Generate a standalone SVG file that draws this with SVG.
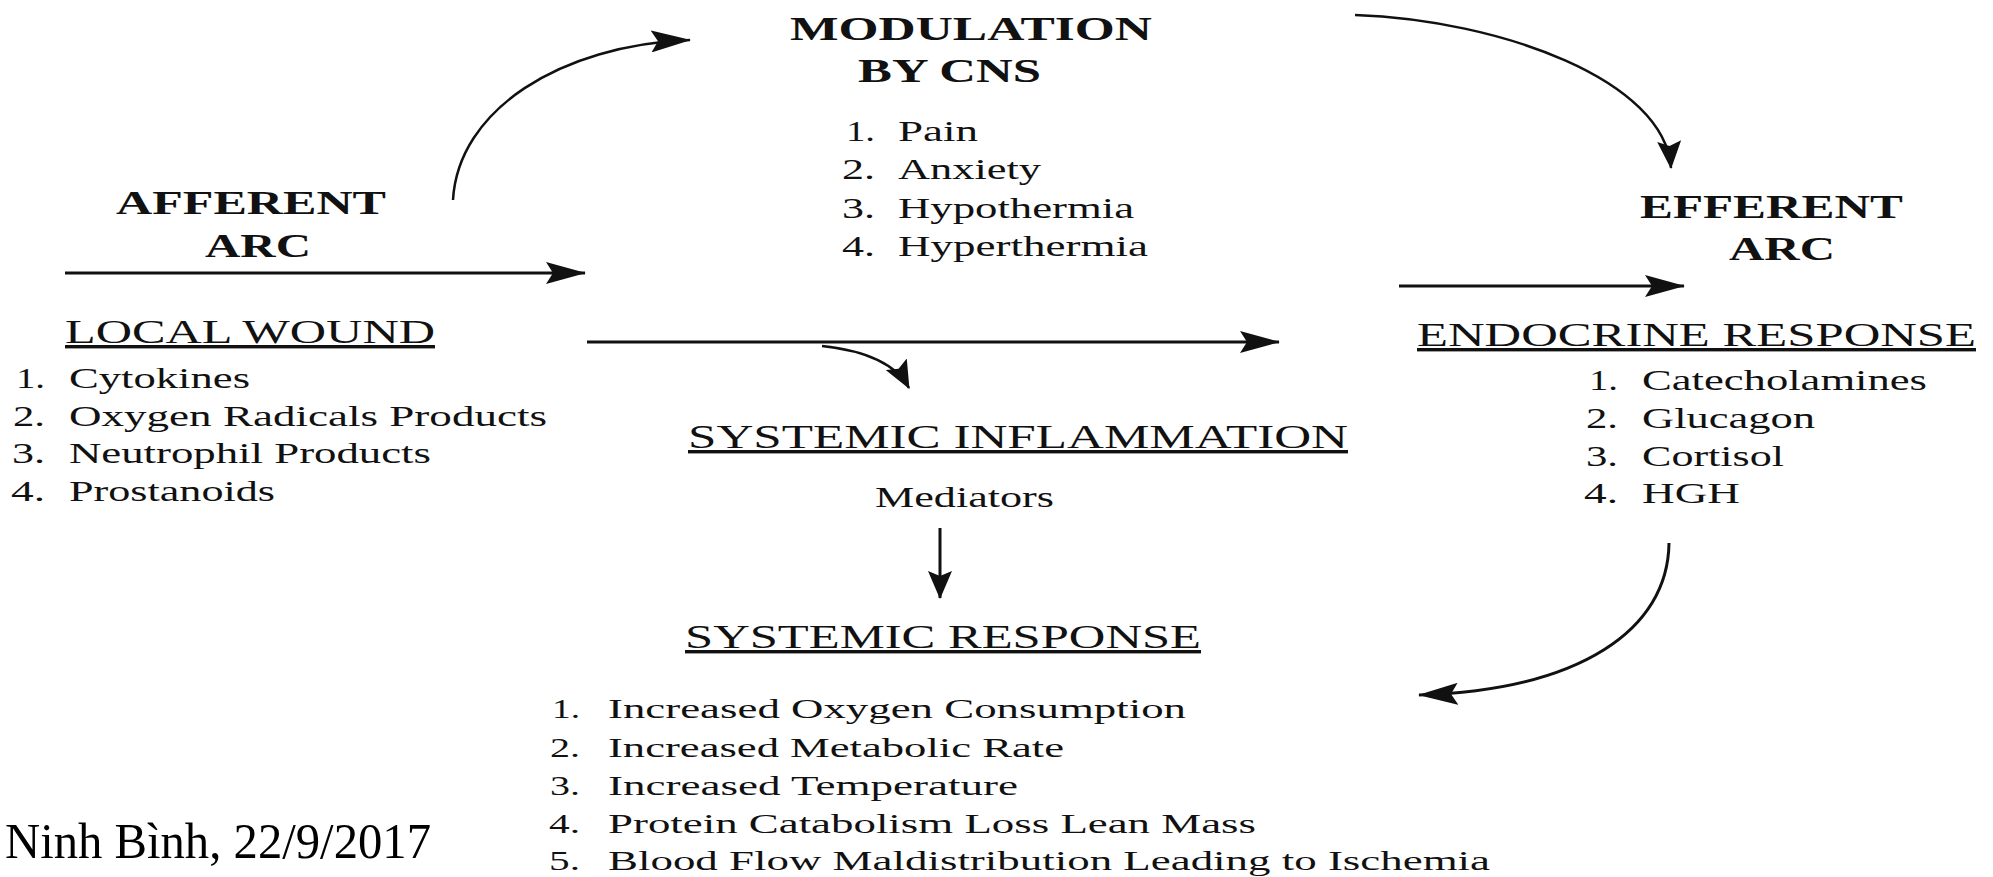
<svg xmlns="http://www.w3.org/2000/svg" width="1993" height="877" viewBox="0 0 1993 877">
  <style>
    text { font-family: "Liberation Serif", "Times New Roman", serif; fill: #111; }
    .hb { font-size: 34px; font-weight: bold; }
    .hu { font-size: 34px; text-decoration: underline; }
    .li { font-size: 30px; }
    .ls { font-size: 28px; }
    .foot { font-size: 50px; fill: #000; }
    .conn { fill: none; stroke: #111; stroke-width: 3; marker-end: url(#head); }
    .thin { stroke-width: 2.5; }
  </style>
  <defs>
    <marker id="head" viewBox="0 0 40 22" refX="39" refY="11" markerWidth="40" markerHeight="22" markerUnits="userSpaceOnUse" orient="auto">
      <path d="M0,0 L40,11 L0,22 L7,11 Z" fill="#111"/>
    </marker>
    <marker id="headS" viewBox="0 0 28 24" refX="27" refY="12" markerWidth="28" markerHeight="24" markerUnits="userSpaceOnUse" orient="auto">
      <path d="M0,0 L28,12 L0,24 L5,12 Z" fill="#111"/>
    </marker>
  </defs>
  <rect width="1993" height="877" fill="#fff"/>

  <!-- connectors -->
  <g id="connectors">
    <path class="conn" d="M65,273 L585,273"/>
    <path class="conn thin" d="M453,200 C458,110 560,45 690,40"/>
    <path class="conn thin" style="marker-end:url(#headS)" d="M1355,15 C1500,20 1665,80 1671,168"/>
    <path class="conn" d="M1399,286 L1684,286"/>
    <path class="conn" stroke-width="4" d="M587,342 L1279,342"/>
    <path class="conn thin" style="marker-end:url(#headS)" d="M822,346 C860,350 895,362 909,388"/>
    <path class="conn" style="marker-end:url(#headS)" d="M940,528 L940,598"/>
    <path class="conn" d="M1669,543 C1668,630 1580,690 1419,695"/>
  </g>

  <!-- afferent arc -->
  <g id="afferent">
    <text class="hb" x="116" y="214" textLength="270" lengthAdjust="spacingAndGlyphs">AFFERENT</text>
    <text class="hb" x="205" y="257" textLength="106" lengthAdjust="spacingAndGlyphs">ARC</text>
  </g>

  <!-- modulation by CNS -->
  <g id="modulation">
    <text class="hb" x="790" y="40" textLength="362" lengthAdjust="spacingAndGlyphs">MODULATION</text>
    <text class="hb" x="858" y="82" textLength="183" lengthAdjust="spacingAndGlyphs">BY CNS</text>
    <text class="li" y="141"><tspan x="846" textLength="29" lengthAdjust="spacingAndGlyphs">1.</tspan><tspan x="898" textLength="80" lengthAdjust="spacingAndGlyphs">Pain</tspan></text>
    <text class="li" y="179"><tspan x="842" textLength="33" lengthAdjust="spacingAndGlyphs">2.</tspan><tspan x="898" textLength="143" lengthAdjust="spacingAndGlyphs">Anxiety</tspan></text>
    <text class="li" y="218"><tspan x="842" textLength="33" lengthAdjust="spacingAndGlyphs">3.</tspan><tspan x="898" textLength="236" lengthAdjust="spacingAndGlyphs">Hypothermia</tspan></text>
    <text class="li" y="256"><tspan x="842" textLength="33" lengthAdjust="spacingAndGlyphs">4.</tspan><tspan x="898" textLength="250" lengthAdjust="spacingAndGlyphs">Hyperthermia</tspan></text>
  </g>

  <!-- efferent arc -->
  <g id="efferent">
    <text class="hb" x="1640" y="218" textLength="263" lengthAdjust="spacingAndGlyphs">EFFERENT</text>
    <text class="hb" x="1729" y="260" textLength="106" lengthAdjust="spacingAndGlyphs">ARC</text>
  </g>

  <!-- local wound -->
  <g id="local-wound">
    <text class="hu" x="65" y="343" textLength="370" lengthAdjust="spacingAndGlyphs">LOCAL WOUND</text>
    <text class="li" y="388"><tspan x="16" textLength="29" lengthAdjust="spacingAndGlyphs">1.</tspan><tspan x="69" textLength="181" lengthAdjust="spacingAndGlyphs">Cytokines</tspan></text>
    <text class="li" y="426"><tspan x="13" textLength="32" lengthAdjust="spacingAndGlyphs">2.</tspan><tspan x="69" textLength="478" lengthAdjust="spacingAndGlyphs">Oxygen Radicals Products</tspan></text>
    <text class="li" y="463"><tspan x="12" textLength="33" lengthAdjust="spacingAndGlyphs">3.</tspan><tspan x="69" textLength="362" lengthAdjust="spacingAndGlyphs">Neutrophil Products</tspan></text>
    <text class="li" y="501"><tspan x="11" textLength="34" lengthAdjust="spacingAndGlyphs">4.</tspan><tspan x="69" textLength="206" lengthAdjust="spacingAndGlyphs">Prostanoids</tspan></text>
  </g>

  <!-- endocrine response -->
  <g id="endocrine">
    <text class="hu" x="1417" y="346" textLength="559" lengthAdjust="spacingAndGlyphs">ENDOCRINE RESPONSE</text>
    <text class="li" y="390"><tspan x="1589" textLength="29" lengthAdjust="spacingAndGlyphs">1.</tspan><tspan x="1642" textLength="285" lengthAdjust="spacingAndGlyphs">Catecholamines</tspan></text>
    <text class="li" y="428"><tspan x="1586" textLength="32" lengthAdjust="spacingAndGlyphs">2.</tspan><tspan x="1642" textLength="173" lengthAdjust="spacingAndGlyphs">Glucagon</tspan></text>
    <text class="li" y="466"><tspan x="1586" textLength="32" lengthAdjust="spacingAndGlyphs">3.</tspan><tspan x="1642" textLength="142" lengthAdjust="spacingAndGlyphs">Cortisol</tspan></text>
    <text class="li" y="503"><tspan x="1584" textLength="34" lengthAdjust="spacingAndGlyphs">4.</tspan><tspan x="1642" textLength="98" lengthAdjust="spacingAndGlyphs">HGH</tspan></text>
  </g>

  <!-- systemic inflammation -->
  <g id="systemic-inflammation">
    <text class="hu" x="688" y="448" textLength="660" lengthAdjust="spacingAndGlyphs">SYSTEMIC INFLAMMATION</text>
    <text class="li" x="875" y="507" textLength="179" lengthAdjust="spacingAndGlyphs">Mediators</text>
  </g>

  <!-- systemic response -->
  <g id="systemic-response">
    <text class="hu" x="685" y="648" textLength="516" lengthAdjust="spacingAndGlyphs">SYSTEMIC RESPONSE</text>
    <text class="ls" y="718"><tspan x="552" textLength="28" lengthAdjust="spacingAndGlyphs">1.</tspan><tspan x="608" textLength="578" lengthAdjust="spacingAndGlyphs">Increased Oxygen Consumption</tspan></text>
    <text class="ls" y="757"><tspan x="550" textLength="30" lengthAdjust="spacingAndGlyphs">2.</tspan><tspan x="608" textLength="456" lengthAdjust="spacingAndGlyphs">Increased Metabolic Rate</tspan></text>
    <text class="ls" y="795"><tspan x="550" textLength="30" lengthAdjust="spacingAndGlyphs">3.</tspan><tspan x="608" textLength="410" lengthAdjust="spacingAndGlyphs">Increased Temperature</tspan></text>
    <text class="ls" y="833"><tspan x="549" textLength="31" lengthAdjust="spacingAndGlyphs">4.</tspan><tspan x="608" textLength="648" lengthAdjust="spacingAndGlyphs">Protein Catabolism Loss Lean Mass</tspan></text>
    <text class="ls" y="870"><tspan x="549" textLength="31" lengthAdjust="spacingAndGlyphs">5.</tspan><tspan x="608" textLength="882" lengthAdjust="spacingAndGlyphs">Blood Flow Maldistribution Leading to Ischemia</tspan></text>
  </g>

  <!-- footer -->
  <g id="footer">
    <text class="foot" x="5" y="858" textLength="426" lengthAdjust="spacingAndGlyphs">Ninh Bình, 22/9/2017</text>
  </g>
</svg>
